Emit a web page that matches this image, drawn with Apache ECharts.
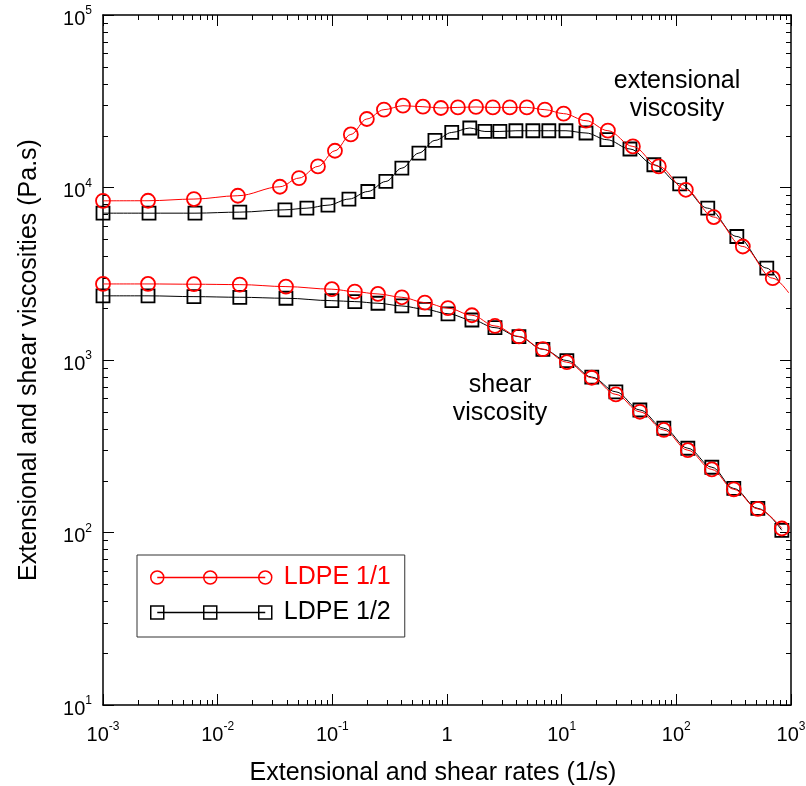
<!DOCTYPE html>
<html>
<head>
<meta charset="utf-8">
<script src="https://cdn.jsdelivr.net/npm/echarts@6/dist/echarts.min.js"></script>
<style>
html,body{margin:0;padding:0;background:#fff;}
#chart{width:806px;height:786px;}
</style>
</head>
<body>
<div id="chart"></div>
<script>
// ---- data ----
const seriesNames = ['LDPE 1/1', 'LDPE 1/2'];

// extensional viscosity, LDPE 1/1 (red circles)
const extRateRed = [0.001, 0.00247, 0.00621, 0.0150, 0.0349, 0.0512, 0.0749, 0.1054, 0.145, 0.200, 0.282, 0.413, 0.617, 0.885, 1.245, 1.79, 2.51, 3.53, 4.97, 7.14, 10.4, 16.3, 25.3, 41.8, 70.3, 121, 212, 380, 693];
const extViscRed = [8370, 8380, 8570, 8960, 10100, 11340, 13250, 16330, 20300, 24960, 28260, 29800, 29400, 28900, 29130, 29300, 29130, 29130, 29130, 28260, 26800, 24400, 21350, 17300, 13250, 9700, 6740, 4550, 2980];
const extFitEndRed = [955, 2450];

// extensional viscosity, LDPE 1/2 (black squares)
const extRateBlack = [0.001, 0.00252, 0.00634, 0.0156, 0.0386, 0.0600, 0.0916, 0.1396, 0.204, 0.293, 0.404, 0.569, 0.785, 1.10, 1.58, 2.14, 2.89, 3.99, 5.61, 7.73, 10.9, 16.3, 24.8, 39.4, 63.7, 107, 188, 337, 615];
const extViscBlack = [7100, 7100, 7100, 7200, 7425, 7590, 7900, 8570, 9480, 10840, 12950, 15840, 18750, 20850, 22120, 21130, 21130, 21330, 21330, 21330, 21330, 20700, 18930, 16720, 13550, 10500, 7590, 5200, 3410];
const extFitEndBlack = [798, 2806];

// shear viscosity
const shearRate = [0.001, 0.00247, 0.00621, 0.0156, 0.0394, 0.0991, 0.157, 0.250, 0.404, 0.641, 1.02, 1.65, 2.62, 4.24, 6.86, 11.1, 18.3, 29.7, 48.1, 77.8, 126, 204, 317, 514, 832];
const shearViscRed = [2760, 2760, 2750, 2735, 2664, 2573, 2490, 2415, 2310, 2150, 1997, 1817, 1575, 1370, 1157, 971, 789, 632, 501, 393, 300, 232, 178, 137, 105.5];
const shearViscBlack = [2355, 2355, 2330, 2310, 2280, 2208, 2180, 2133, 2057, 1968, 1853, 1706, 1540, 1365, 1153, 993, 796, 654, 513, 402, 308, 239, 180, 138, 103];

// axes / ticks
const xRange = [0.001, 1000];
const yRange = [10, 100000];
const xDecades = [0.001, 0.01, 0.1, 1, 10, 100];
const yDecades = [10, 100, 1000, 10000];
const minorMultipliers = [2, 3, 4, 5, 6, 7, 8, 9];
const xTitle = 'Extensional and shear rates (1/s)';
const yTitle = 'Extensional and shear viscosities (Pa.s)';
const annotations = ['extensional\nviscosity', 'shear\nviscosity'];

// ---- build ----
const FONT = '"Liberation Sans", Arial, Helvetica, sans-serif';
const RED = '#ff0000', BLACK = '#000000';
const MINOR_LEN = 5;

function zip(xs, ys) { return xs.map((x, i) => [x, ys[i]]); }
function withFitEnd(pts, end) { return pts.concat([{ value: end, symbol: 'none' }]); }
function minorValues(decades) {
  const out = [];
  decades.forEach(d => minorMultipliers.forEach(m => out.push(d * m)));
  return out;
}
function powLabel(v, allowOne) {
  const e = Math.round(Math.log10(v));
  if (allowOne && e === 0) return '{b|1}';
  return '{b|10}{s|' + e + '}';
}
const rich = {
  b: { fontSize: 20, lineHeight: 24, color: BLACK, fontFamily: FONT, verticalAlign: 'bottom' },
  s: { fontSize: 12, lineHeight: 12, color: BLACK, fontFamily: FONT, verticalAlign: 'top' }
};
const axisLineStyle = { color: BLACK, width: 1.5 };
const tickStyle = { color: BLACK, width: 1 };

const circlePath = (cx) => `M${cx - 6.5} 6.5 A6.5 6.5 0 1 1 ${cx + 6.5} 6.5 A6.5 6.5 0 1 1 ${cx - 6.5} 6.5 Z`;
const iconCircles = 'path://' + circlePath(6.5) + ' ' + circlePath(59.5) + ' ' + circlePath(114.5) + ' M6.5 6.5 L114.5 6.5';
const sq = (x) => `M${x} 0 L${x + 13} 0 L${x + 13} 13 L${x} 13 Z`;
const iconSquares = 'path://' + sq(0) + ' ' + sq(53) + ' ' + sq(108) + ' M6.5 6.5 L114.5 6.5';

function lineSeries(name, data, color, symbol, size, z) {
  return {
    name, type: 'line', data, xAxisIndex: 0, yAxisIndex: 0,
    smooth: 0.35, smoothMonotone: 'x', clip: false, z,
    symbol, symbolSize: size, showAllSymbol: true,
    lineStyle: { color, width: 1 },
    itemStyle: { color: 'rgba(0,0,0,0)', borderColor: color, borderWidth: 1.8 },
    emphasis: { disabled: true }, animation: false
  };
}

function tickLine(x1, y1, x2, y2) {
  return { type: 'line', shape: { x1, y1, x2, y2 }, style: { stroke: BLACK, lineWidth: 1 } };
}

// minor ticks of the log axes, placed through the axes' own scale
const xMinorSeries = {
  type: 'custom', xAxisIndex: 0, yAxisIndex: 0, silent: true, clip: false, z: 1,
  data: minorValues(xDecades).map(v => [v, yRange[0]]),
  encode: { x: 0, y: 1 },
  renderItem: (params, api) => {
    const v = api.value(0);
    const b = api.coord([v, yRange[0]]);
    const t = api.coord([v, yRange[1]]);
    const x = Math.round(b[0]) + 0.5;
    return { type: 'group', children: [
      tickLine(x, b[1], x, b[1] - MINOR_LEN),
      tickLine(x, t[1], x, t[1] + MINOR_LEN)
    ] };
  }
};
const yMinorSeries = {
  type: 'custom', xAxisIndex: 0, yAxisIndex: 0, silent: true, clip: false, z: 1,
  data: minorValues(yDecades).map(v => [xRange[0], v]),
  encode: { x: 0, y: 1 },
  renderItem: (params, api) => {
    const v = api.value(1);
    const l = api.coord([xRange[0], v]);
    const r = api.coord([xRange[1], v]);
    const y = Math.round(l[1]) + 0.5;
    return { type: 'group', children: [
      tickLine(l[0], y, l[0] + MINOR_LEN, y),
      tickLine(r[0], y, r[0] - MINOR_LEN, y)
    ] };
  }
};

const chart = echarts.init(document.getElementById('chart'), null, { renderer: 'canvas' });
chart.setOption({
  animation: false,
  backgroundColor: '#fff',
  textStyle: { fontFamily: FONT },
  grid: { left: 103, right: 15, top: 15, bottom: 81, containLabel: false, outerBoundsMode: 'none' },
  legend: {
    left: 137, top: 555, orient: 'vertical',
    backgroundColor: '#fff', borderColor: '#333', borderWidth: 1,
    padding: [10, 14, 12, 13], itemGap: 10,
    itemWidth: 121, itemHeight: 13, selectedMode: false,
    textStyle: { fontSize: 25, lineHeight: 25, fontFamily: FONT, padding: [0, 0, 0, 7] },
    data: [
      { name: seriesNames[0], icon: iconCircles, textStyle: { color: RED },
        itemStyle: { color: 'rgba(0,0,0,0)', borderColor: RED, borderWidth: 1.5 } },
      { name: seriesNames[1], icon: iconSquares, textStyle: { color: BLACK },
        itemStyle: { color: 'rgba(0,0,0,0)', borderColor: BLACK, borderWidth: 1.5 } }
    ]
  },
  xAxis: [
    { type: 'log', logBase: 10, min: xRange[0], max: xRange[1], position: 'bottom', splitNumber: 6,
      name: xTitle, nameLocation: 'middle', nameGap: 56,
      nameTextStyle: { fontSize: 25, color: BLACK, fontFamily: FONT, padding: [0, 28, 0, 0] },
      axisLine: { onZero: false, lineStyle: axisLineStyle },
      axisTick: { inside: true, length: 11, lineStyle: tickStyle },
      axisLabel: { margin: 16, formatter: v => powLabel(v, true), rich },
      splitLine: { show: false } },
    { type: 'log', logBase: 10, min: xRange[0], max: xRange[1], position: 'top', splitNumber: 6,
      axisLine: { onZero: false, lineStyle: axisLineStyle },
      axisTick: { inside: true, length: 11, lineStyle: tickStyle },
      axisLabel: { show: false }, splitLine: { show: false } }
  ],
  yAxis: [
    { type: 'log', logBase: 10, min: yRange[0], max: yRange[1], position: 'left', splitNumber: 4,
      name: yTitle, nameLocation: 'middle', nameGap: 61,
      nameTextStyle: { fontSize: 25, color: BLACK, fontFamily: FONT },
      axisLine: { onZero: false, lineStyle: axisLineStyle },
      axisTick: { inside: true, length: 11, lineStyle: tickStyle },
      axisLabel: { margin: 11, formatter: v => powLabel(v, false), rich, padding: [4, 0, 0, 0] },
      splitLine: { show: false } },
    { type: 'log', logBase: 10, min: yRange[0], max: yRange[1], position: 'right', splitNumber: 4,
      axisLine: { onZero: false, lineStyle: axisLineStyle },
      axisTick: { inside: true, length: 11, lineStyle: tickStyle },
      axisLabel: { show: false }, splitLine: { show: false } }
  ],
  graphic: [
    { type: 'text', x: 677, y: 67, silent: true,
      style: { text: annotations[0], font: '25px ' + FONT, fill: BLACK, textAlign: 'center', textVerticalAlign: 'top', textLineHeight: 28 } },
    { type: 'text', x: 500, y: 371, silent: true,
      style: { text: annotations[1], font: '25px ' + FONT, fill: BLACK, textAlign: 'center', textVerticalAlign: 'top', textLineHeight: 28 } }
  ],
  series: [
    xMinorSeries,
    yMinorSeries,
    lineSeries(seriesNames[1], withFitEnd(zip(extRateBlack, extViscBlack), extFitEndBlack), BLACK, 'rect', 13, 2),
    lineSeries(seriesNames[1], zip(shearRate, shearViscBlack), BLACK, 'rect', 13, 2),
    lineSeries(seriesNames[0], withFitEnd(zip(extRateRed, extViscRed), extFitEndRed), RED, 'circle', 14, 3),
    lineSeries(seriesNames[0], zip(shearRate, shearViscRed), RED, 'circle', 14, 3)
  ]
});
</script>
</body>
</html>
